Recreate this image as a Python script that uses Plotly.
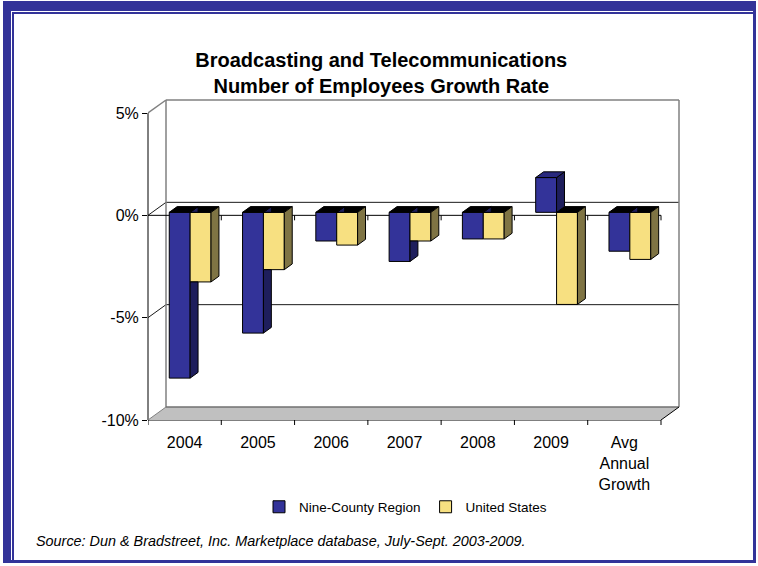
import plotly.graph_objects as go

# ---------------- data ----------------
categories = ["2004", "2005", "2006", "2007", "2008", "2009", "Avg<br>Annual<br>Growth"]
nine_county = [-8.1, -5.9, -1.4, -2.4, -1.3, 1.7, -1.9]
united_states = [-3.4, -2.8, -1.6, -1.4, -1.3, -4.5, -2.3]
series_names = ["Nine-County Region", "United States"]
y_ticks = [-10, -5, 0, 5]
y_tick_labels = ["-10%", "-5%", "0%", "5%"]
title_text = "Broadcasting and Telecommunications<br>Number of Employees Growth Rate"
source_text = "Source: Dun & Bradstreet, Inc. Marketplace database, July-Sept. 2003-2009."

# ---------------- layout geometry ----------------
FIG_W, FIG_H = 758, 566
L, T, RPX, BPX = 148, 98, 681, 420          # plot area in pixels
N = len(categories)
PPX = 513 / N                                # pixels per category
PPY = 307 / 15                               # pixels per percent
X0 = -0.5
XEND = X0 + N
XMAX = X0 + (RPX - L) / PPX
YMIN = y_ticks[0]
YTOP = y_ticks[-1]
YMAX = YMIN + (BPX - T) / PPY
DX = 18 / PPX                                # 3-D depth offset (x)
DY = 13 / PPY                                # 3-D depth offset (y)
BASE = 0.23 * DY                             # bar front plane shift
BDX, BDY = 0.44 * DX, 0.44 * DY              # bar depth
OFFS = [-0.21, 0.075]
BW = 0.285

FONT = "Liberation Sans, Arial, sans-serif"
BLUE, BLUE_SIDE, BLUE_TOP = "#333399", "#1E1E5C", "#29297E"
YEL, YEL_SIDE = "#F7E081", "#7F7444"


def px(xp):
    return (xp - L) / (RPX - L)


def py(yp):
    return (BPX - yp) / (BPX - T)


def clip(poly, ylim, keep_below):
    out = []
    n = len(poly)
    for i in range(n):
        a, b = poly[i], poly[(i + 1) % n]
        ina = a[1] <= ylim if keep_below else a[1] >= ylim
        inb = b[1] <= ylim if keep_below else b[1] >= ylim
        if ina:
            out.append(a)
        if ina != inb:
            t = (ylim - a[1]) / (b[1] - a[1])
            out.append((a[0] + t * (b[0] - a[0]), ylim))
    return out if len(out) >= 3 else []


def add_polys(fig, polys, color):
    xs, ys = [], []
    for p in polys:
        if not p:
            continue
        xs += [q[0] for q in p] + [p[0][0], None]
        ys += [q[1] for q in p] + [p[0][1], None]
    if xs:
        fig.add_trace(go.Scatter(x=xs, y=ys, mode="lines", fill="toself",
                                 fillcolor=color, line=dict(color="black", width=1),
                                 hoverinfo="skip", showlegend=False))


fig = go.Figure()

# front faces of the bars
for vals, name, off, col in [(nine_county, series_names[0], OFFS[0], BLUE),
                             (united_states, series_names[1], OFFS[1], YEL)]:
    fig.add_trace(go.Bar(x=list(range(N)), y=vals, base=[BASE] * N, name=name,
                         offset=off, width=BW, marker=dict(color=col, line=dict(color="black", width=1))))

# 3-D side and top faces computed from the data
blue_sides, blue_tops_neg, blue_tops_pos, yel_sides, yel_tops = [], [], [], [], []
for i in range(N):
    vb, vy = nine_county[i], united_states[i]
    bx0, bx1 = i + OFFS[0], i + OFFS[0] + BW
    yx0, yx1 = i + OFFS[1], i + OFFS[1] + BW
    side = [(bx1, BASE), (bx1 + BDX, BASE + BDY), (bx1 + BDX, BASE + vb + BDY), (bx1, BASE + vb)]
    blue_sides.append(clip(side, BASE + min(vy, 0), True))
    blue_sides.append(clip(side, BASE + max(vy, 0), False))
    top_y = BASE + max(vb, 0)
    top = [(bx0, top_y), (bx1, top_y), (bx1 + BDX, top_y + BDY), (bx0 + BDX, top_y + BDY)]
    (blue_tops_pos if vb > 0 else blue_tops_neg).append(top)
    yel_sides.append([(yx1, BASE), (yx1 + BDX, BASE + BDY), (yx1 + BDX, BASE + vy + BDY), (yx1, BASE + vy)])
    ty = BASE + max(vy, 0)
    yel_tops.append([(yx0, ty), (yx1, ty), (yx1 + BDX, ty + BDY), (yx0 + BDX, ty + BDY)])

add_polys(fig, yel_tops, "black")
add_polys(fig, blue_sides, BLUE_SIDE)
add_polys(fig, blue_tops_neg, "black")
add_polys(fig, blue_tops_pos, BLUE_TOP)
add_polys(fig, yel_sides, YEL_SIDE)

# ---------------- decorations (frame, walls, floor) ----------------
shapes = []
# outer frame
shapes.append(dict(type="rect", xref="paper", yref="paper", layer="below",
                   x0=px(3), x1=px(756), y0=py(563), y1=py(1), fillcolor="#333399", line=dict(width=0)))
shapes.append(dict(type="rect", xref="paper", yref="paper", layer="below",
                   x0=px(11), x1=px(753), y0=py(560), y1=py(11), fillcolor="white", line=dict(width=0)))
shapes.append(dict(type="path", xref="paper", yref="paper", layer="below",
                   path=f"M{px(753)},{py(13)} L{px(13)},{py(13)} L{px(13)},{py(560)}",
                   line=dict(color="#333399", width=2)))
# floor
fx = [X0, XEND, XEND + DX, X0 + DX]
fy = [YMIN, YMIN, YMIN + DY, YMIN + DY]
shapes.append(dict(type="path", xref="x", yref="y", layer="below",
                   path="M" + " L".join(f"{a},{b}" for a, b in zip(fx, fy)) + " Z",
                   fillcolor="#C0C0C0", line=dict(width=0)))


def seg(x0, y0, x1, y1, color, width=1, xref="x", yref="y"):
    shapes.append(dict(type="line", xref=xref, yref=yref, layer="below",
                       x0=x0, y0=y0, x1=x1, y1=y1, line=dict(color=color, width=width)))


# back-wall gridlines and diagonals
for v in y_ticks[1:-1]:
    seg(X0 + DX, v + DY, XEND + DX, v + DY, "#1a1a1a", 1)
    seg(X0, v, X0 + DX, v + DY, "#1a1a1a", 1)
seg(X0, YTOP, X0 + DX, YTOP + DY, "#808080", 1.5)
seg(X0 + DX, YMIN + DY, X0 + DX, YTOP + DY, "#808080", 1.5)
seg(X0 + DX, YTOP + DY, XEND + DX, YTOP + DY, "#808080", 1.5)
seg(XEND + DX, YTOP + DY, XEND + DX, YMIN + DY, "#808080", 1.5)
seg(X0 + DX, YMIN + DY, XEND + DX, YMIN + DY, "#707070", 1.5)
seg(X0, YMIN, X0 + DX, YMIN + DY, "#808080", 1)
seg(XEND, YMIN, XEND + DX, YMIN + DY, "black", 1)
# front value axis
seg(0, YMIN, 0, YTOP, "black", 1, xref="paper")
# category axis at zero, with ticks
seg(X0, 0, XEND, 0, "black", 1)
for k in range(1, N + 1):
    seg(X0 + k, 0, X0 + k, -5 / PPY, "black", 1)
# floor front edge with ticks
seg(X0, 0, XEND, 0, "black", 1, yref="paper")
for k in range(0, N + 1):
    seg(X0 + k, 0, X0 + k, -5 / (BPX - T), "black", 1, yref="paper")

fig.update_layout(
    width=FIG_W, height=FIG_H,
    margin=dict(l=L, r=FIG_W - RPX, t=T, b=FIG_H - BPX, pad=0),
    paper_bgcolor="white", plot_bgcolor="rgba(0,0,0,0)",
    barmode="overlay",
    font=dict(family=FONT, color="black", size=16),
    shapes=shapes,
    title=dict(text="<b>" + title_text + "</b>", x=0.503, xanchor="center",
               y=1 - 67 / FIG_H, yanchor="middle", font=dict(size=20, family=FONT, color="black")),
    xaxis=dict(range=[X0, XMAX], tickvals=list(range(N)), ticktext=categories,
               showgrid=False, zeroline=False, showline=False,
               ticks="outside", ticklen=8, tickcolor="rgba(0,0,0,0)",
               tickfont=dict(size=16)),
    yaxis=dict(range=[YMIN, YMAX], tickvals=y_ticks, ticktext=y_tick_labels,
               showgrid=False, zeroline=False, showline=False,
               ticks="outside", ticklen=5, tickcolor="black", tickwidth=1,
               tickfont=dict(size=16)),
    legend=dict(orientation="h", x=px(259), xanchor="left", y=py(507), yanchor="middle",
                font=dict(size=13.5), bgcolor="rgba(0,0,0,0)", traceorder="normal"),
    annotations=[dict(text="<i>" + source_text + "</i>", xref="paper", yref="paper",
                      x=px(34), y=py(541), xanchor="left", yanchor="middle", showarrow=False,
                      font=dict(size=14.4, family=FONT))],
)

fig.write_html("out.html")
